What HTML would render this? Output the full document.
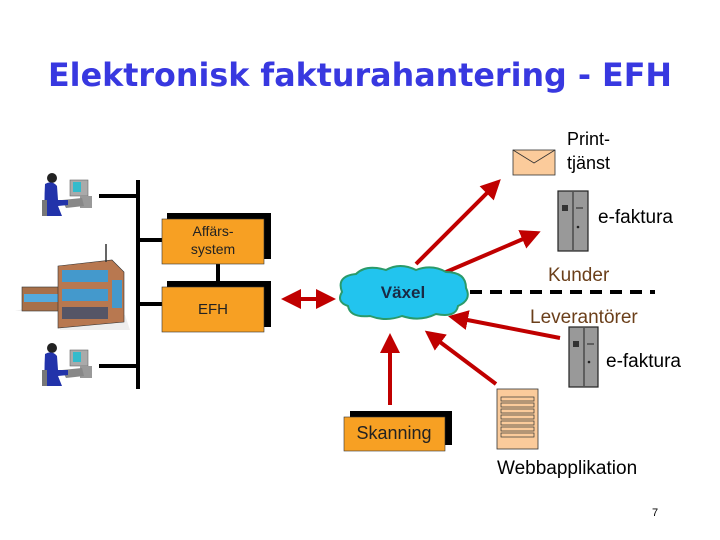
<!DOCTYPE html>
<html><head><meta charset="utf-8"><style>
html,body{margin:0;padding:0;background:#fff;width:720px;height:540px;overflow:hidden}
svg{display:block}
text{font-family:"Liberation Sans",sans-serif}
</style></head><body>
<svg width="720" height="540" viewBox="0 0 720 540" xmlns="http://www.w3.org/2000/svg">
<defs>
<marker id="ah" markerWidth="5" markerHeight="5" refX="4" refY="2.5" orient="auto" markerUnits="strokeWidth"><path d="M0,0 L5,2.5 L0,5 z" fill="#c00000"/></marker>
<marker id="as" markerWidth="5" markerHeight="5" refX="1" refY="2.5" orient="auto" markerUnits="strokeWidth"><path d="M5,0 L0,2.5 L5,5 z" fill="#c00000"/></marker>
<g id="person">
<rect x="28" y="8" width="18" height="16" fill="#aaa" stroke="#666" stroke-width="0.6"/>
<rect x="31" y="10" width="8" height="10" fill="#33bbcc"/>
<rect x="38" y="24" width="12" height="12" fill="#999"/>
<path d="M20,28 L40,26 L42,34 L24,36z" fill="#888"/>
<circle cx="10" cy="6" r="5" fill="#222"/>
<path d="M3,12 Q10,8 15,14 L16,28 L26,28 L26,33 L16,34 L20,44 L3,44 Q2,30 3,12z" fill="#2233aa"/>
<rect x="0" y="28" width="5" height="16" fill="#777"/>
</g>
</defs>

<text x="360" y="86" text-anchor="middle" font-size="32" fill="#3838e0" font-weight="bold" textLength="624" lengthAdjust="spacingAndGlyphs" style="font-family:'DejaVu Sans',sans-serif">Elektronisk fakturahantering - EFH</text>

<g stroke="#000" stroke-width="4">
<line x1="138" y1="180" x2="138" y2="389"/>
<line x1="99" y1="196" x2="138" y2="196"/>
<line x1="138" y1="240" x2="162" y2="240"/>
<line x1="138" y1="304" x2="162" y2="304"/>
<line x1="99" y1="366" x2="138" y2="366"/>
<line x1="218" y1="262" x2="218" y2="288"/>
</g>

<use href="#person" x="42" y="172"/>
<use href="#person" x="42" y="342"/>

<g>
<path d="M15,311 L60,311 L60,330 L130,330 L125,315 L60,300z" fill="#eee"/>
<rect x="22" y="287" width="38" height="24" fill="#a8704a" stroke="#333" stroke-width="0.6"/>
<rect x="24" y="294" width="34" height="8" fill="#55aadd"/>
<path d="M58,266 L112,260 L124,272 L124,322 L58,328z" fill="#b87850" stroke="#333" stroke-width="0.6"/>
<rect x="62" y="270" width="46" height="12" fill="#4499cc"/>
<rect x="62" y="289" width="46" height="12" fill="#4499cc"/>
<rect x="62" y="307" width="46" height="12" fill="#556"/>
<rect x="112" y="280" width="10" height="28" fill="#4499cc"/>
<line x1="106" y1="244" x2="106" y2="262" stroke="#333" stroke-width="1.5"/>
</g>

<rect x="167" y="213" width="104" height="46" fill="#000"/>
<rect x="162" y="219" width="102" height="45" fill="#f7a023" stroke="#333" stroke-width="0.6"/>
<text x="213" y="236" text-anchor="middle" font-size="14" fill="#222">Affärs-</text>
<text x="213" y="254" text-anchor="middle" font-size="14" fill="#222">system</text>
<rect x="167" y="281" width="104" height="46" fill="#000"/>
<rect x="162" y="287" width="102" height="45" fill="#f7a023" stroke="#333" stroke-width="0.6"/>
<text x="213" y="314" text-anchor="middle" font-size="15" fill="#222">EFH</text>

<rect x="350" y="411" width="102" height="34" fill="#000"/>
<rect x="344" y="417" width="101" height="34" fill="#f7a023" stroke="#333" stroke-width="0.6"/>
<text x="394" y="439" text-anchor="middle" font-size="18" fill="#222">Skanning</text>

<g stroke="#c00000" stroke-width="4" fill="none">
<line x1="285" y1="299" x2="332" y2="299" marker-end="url(#ah)" marker-start="url(#as)"/>
<line x1="416" y1="264" x2="498" y2="182" marker-end="url(#ah)"/>
<line x1="439" y1="275" x2="537" y2="233" marker-end="url(#ah)"/>
<line x1="560" y1="338" x2="452" y2="317" marker-end="url(#ah)"/>
<line x1="496" y1="384" x2="428" y2="333" marker-end="url(#ah)"/>
<line x1="390" y1="405" x2="390" y2="337" marker-end="url(#ah)"/>
</g>

<line x1="470" y1="292" x2="655" y2="292" stroke="#000" stroke-width="4" stroke-dasharray="12,8"/>

<path d="M342,292 Q336,276 356,274 Q366,264 386,270 Q400,262 416,270 Q432,264 446,272 Q466,272 466,288 Q472,300 458,306 Q456,318 436,314 Q420,322 402,316 Q386,322 370,316 Q350,318 348,306 Q336,302 342,292z" fill="#22c4ee" stroke="#2a9a6a" stroke-width="2"/>
<text x="403" y="298" text-anchor="middle" font-size="17" font-weight="bold" fill="#1a2a44">Växel</text>

<rect x="513" y="150" width="42" height="25" fill="#fbcb9b" stroke="#333" stroke-width="0.8"/>
<path d="M513,150 L534,163 L555,150" fill="none" stroke="#333" stroke-width="0.8"/>
<text x="567" y="145" font-size="18" fill="#000">Print-</text>
<text x="567" y="169" font-size="18" fill="#000">tjänst</text>

<g>
<rect x="558" y="191" width="30" height="60" fill="#999" stroke="#222" stroke-width="1.2"/>
<line x1="573" y1="192" x2="573" y2="250" stroke="#222"/>
<rect x="562" y="205" width="6" height="6" fill="#333"/>
<line x1="576" y1="208" x2="583" y2="208" stroke="#222"/>
<circle cx="578" cy="227" r="1.3" fill="#222"/>
</g>
<text x="598" y="223" font-size="19" fill="#000">e-faktura</text>
<g>
<rect x="569" y="327" width="29" height="60" fill="#999" stroke="#222" stroke-width="1.2"/>
<line x1="584" y1="328" x2="584" y2="386" stroke="#222"/>
<rect x="573" y="341" width="6" height="6" fill="#333"/>
<line x1="587" y1="344" x2="594" y2="344" stroke="#222"/>
<circle cx="589" cy="362" r="1.3" fill="#222"/>
</g>
<text x="606" y="367" font-size="19" fill="#000">e-faktura</text>

<text x="548" y="281" font-size="19" fill="#6b3f1a">Kunder</text>
<text x="530" y="323" font-size="19" fill="#6b3f1a">Leverantörer</text>

<rect x="497" y="389" width="41" height="60" fill="#fbcb9b" stroke="#333" stroke-width="0.8"/>
<g fill="none" stroke="#333" stroke-width="0.7">
<rect x="501" y="397" width="33" height="4"/><rect x="501" y="403" width="33" height="4"/><rect x="501" y="409" width="33" height="4"/><rect x="501" y="415" width="33" height="4"/><rect x="501" y="421" width="33" height="4"/><rect x="501" y="427" width="33" height="4"/><rect x="501" y="433" width="33" height="4"/>
</g>
<text x="497" y="474" font-size="19" fill="#000">Webbapplikation</text>

<text x="652" y="516" font-size="11" fill="#000">7</text>
</svg>
</body></html>
